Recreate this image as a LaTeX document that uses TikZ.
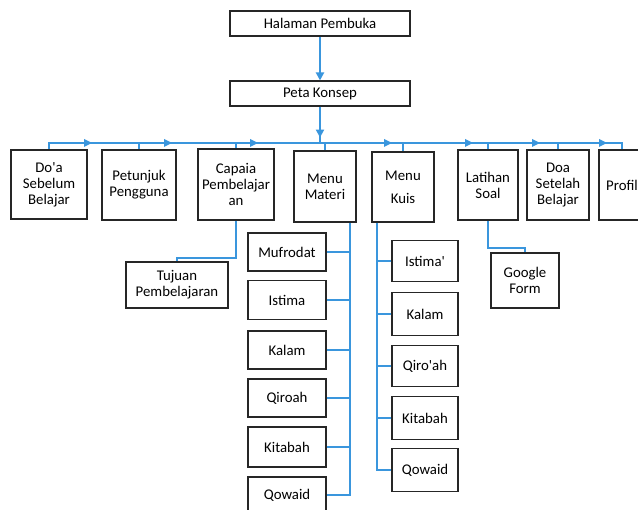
\documentclass[tikz,border=0pt]{standalone}
\usepackage{fontspec}
\setmainfont{Carlito}
\usetikzlibrary{arrows.meta,calc}
\definecolor{connblue}{RGB}{58,150,221}
\begin{document}
\begin{tikzpicture}[x=1pt,y=-1pt,
  box/.style={draw=black!85,line width=1.1pt,inner sep=0pt,align=center,
    font=\fontsize{14.8}{16}\selectfont},
  wire/.style={draw=connblue,line width=2pt},
  tipped/.style={-{Triangle[length=8pt,width=8pt]}}]
\clip (0,0) rectangle (638,510);
\fill[white] (0,0) rectangle (638,510);
% top
\node[box,minimum width=180pt,minimum height=25pt] (hp) at (320,23.5) {Halaman Pembuka};
\node[box,minimum width=180pt,minimum height=25pt] (pk) at (320,93.5) {Peta Konsep};
% level 1
\node[box,minimum width=76pt,minimum height=69pt] (doa) at (49,184.5) {Do\textquotesingle a\\Sebelum\\Belajar};
\node[box,minimum width=74pt,minimum height=70pt] (pet) at (139,185) {Petunjuk\\Pengguna};
\node[box,minimum width=76pt,minimum height=71pt] (cap) at (236,184.5) {Capaia\\Pembelajar\\an};
\node[box,minimum width=62pt,minimum height=71pt] (mat) at (325,186.5) {Menu\\Materi};
\node[box,minimum width=62pt,minimum height=70pt] (kuis) at (403,187) {Menu\\[7pt]Kuis};
\node[box,minimum width=60pt,minimum height=70pt] (lat) at (488,185) {Latihan\\Soal};
\node[box,minimum width=62pt,minimum height=70pt] (dset) at (558,185) {Doa\\Setelah\\Belajar};
\node[box,minimum width=46pt,minimum height=70pt] (prof) at (622,185) {Profil};
% level 2
\node[box,minimum width=102pt,minimum height=46pt] (tuj) at (177,285) {Tujuan\\Pembelajaran};
\node[box,minimum width=68pt,minimum height=55pt] (gf) at (525,280.5) {Google\\Form};
% materi
\node[box,minimum width=78pt,minimum height=38pt] (muf) at (287,252) {Mufrodat};
\node[box,minimum width=78pt,minimum height=39pt] (ist) at (287,300) {Istima};
\node[box,minimum width=78pt,minimum height=38pt] (kal) at (287,350) {Kalam};
\node[box,minimum width=78pt,minimum height=38pt] (qir) at (287,398) {Qiroah};
\node[box,minimum width=78pt,minimum height=40pt] (kit) at (287,447) {Kitabah};
\node[box,minimum width=78pt,minimum height=36pt] (qow) at (287,495) {Qowaid};
% kuis
\node[box,minimum width=66pt,minimum height=41pt] (ist2) at (425,261) {Istima\textquotesingle};
\node[box,minimum width=66pt,minimum height=43pt] (kal2) at (425,314) {Kalam};
\node[box,minimum width=66pt,minimum height=41pt] (qir2) at (425,366) {Qiro\textquotesingle ah};
\node[box,minimum width=66pt,minimum height=43pt] (kit2) at (425,418) {Kitabah};
\node[box,minimum width=66pt,minimum height=43pt] (qow2) at (425,470) {Qowaid};
% connectors
\draw[wire,tipped] (hp.south) -- (pk.north);
\coordinate (bus) at (320,143);
\draw[wire] (pk.south) -- (bus);
\draw[wire,tipped] (pk.south) -- ++(0,31);
\foreach \n in {doa,pet,cap,mat,kuis,lat,dset,prof}
  \draw[wire] (bus) -| (\n.north);
\foreach \x in {92,172,258,392,473,540,607}
  \fill[connblue] (\x,143) -- ++(-8,-4) -- ++(0,8) -- cycle;
\draw[wire] (cap.south) -- ++(0,37) -| (tuj.north);
\draw[wire] (lat.south) -- ++(0,27) -| (gf.north);
\coordinate (mtop) at ($(mat.south east)+(-7,0)$);
\draw[wire] (mtop) |- (qow.east);
\foreach \n in {muf,ist,kal,qir,kit}
  \draw[wire] (\n.east) -- (\n.east -| mtop);
\coordinate (ktop) at ($(kuis.south west)+(6,0)$);
\draw[wire] (ktop) |- (qow2.west);
\foreach \n in {ist2,kal2,qir2,kit2}
  \draw[wire] (\n.west) -- (\n.west -| ktop);
\end{tikzpicture}
\end{document}
